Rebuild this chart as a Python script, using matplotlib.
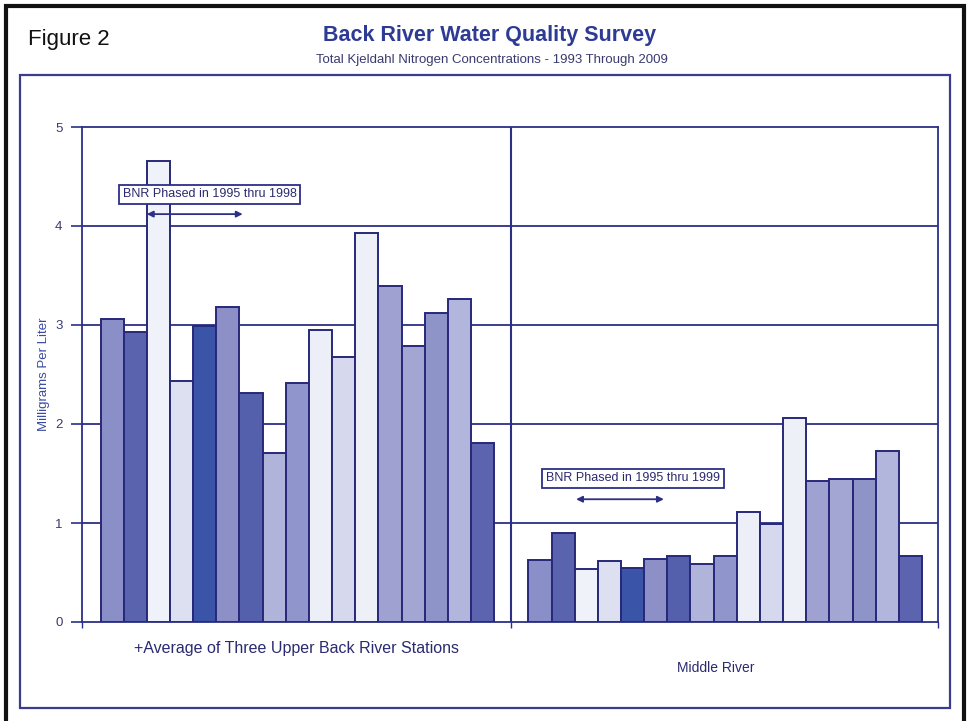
import matplotlib
matplotlib.use("Agg")
import matplotlib.pyplot as plt
from matplotlib.patches import Rectangle
import numpy as np

plt.rcParams['font.family'] = ['Liberation Sans', 'DejaVu Sans']

years = list(range(1993, 2010))
upper_back = [3.06, 2.93, 4.66, 2.43, 2.99, 3.18, 2.31, 1.71, 2.41, 2.95,
              2.68, 3.93, 3.39, 2.79, 3.12, 3.26, 1.81]
middle_river = [0.63, 0.90, 0.54, 0.62, 0.55, 0.64, 0.67, 0.59, 0.67, 1.11,
                0.99, 2.06, 1.42, 1.44, 1.44, 1.73, 0.67]
year_colors = ['#8a8fc8', '#5a63ae', '#f0f2fa', '#dde0f0', '#3a55a8', '#8d90c6',
               '#5560ac', '#b0b3da', '#9096cc', '#eceef8', '#d6d9ee', '#eef0f8',
               '#9fa2d0', '#a3a5d2', '#8f94c8', '#b2b5dc', '#5c64b0']
group_labels = ['+Average of Three Upper Back River Stations', 'Middle River']
bnr_notes = ['BNR Phased in 1995 thru 1998', 'BNR Phased in 1995 thru 1999']

navy = '#2c2f86'
edge = '#28287a'

fig = plt.figure(figsize=(9.69, 7.21), dpi=100)
W, H = 969, 721

def fx(px):
    return px / W

def fy(py):
    return 1 - py / H

# outer frame and inner panel
fig.patches.append(Rectangle((fx(6), fy(730)), fx(964) - fx(6), fy(6) - fy(730),
                             transform=fig.transFigure, fill=False,
                             edgecolor='#111111', linewidth=3))
fig.patches.append(Rectangle((fx(20), fy(708)), fx(950) - fx(20), fy(75) - fy(708),
                             transform=fig.transFigure, fill=False,
                             edgecolor='#3c3c8c', linewidth=1.6))

fig.text(fx(28), fy(39), 'Figure 2', fontsize=16, color='#111111', va='center', ha='left')
fig.text(fx(490), fy(36), 'Back River Water Quality Survey', fontsize=15.5,
         fontweight='bold', color='#2e3b94', ha='center', va='center')
fig.text(fx(492), fy(60), 'Total Kjeldahl Nitrogen Concentrations - 1993 Through 2009',
         fontsize=9.5, color='#3a3a70', ha='center', va='center')

ax = fig.add_axes([fx(82), fy(622), fx(938) - fx(82), fy(127) - fy(622)])

n = len(years)
x_up = np.arange(n)
x_mid = np.arange(n) + 18.48
divider = 17.73

ax.bar(x_up, upper_back, width=1.0, align='edge', color=year_colors,
       edgecolor=edge, linewidth=1.4, zorder=3)
ax.bar(x_mid, middle_river, width=1.0, align='edge', color=year_colors,
       edgecolor=edge, linewidth=1.4, zorder=3)

ax.set_xlim(-0.8, 36.17)
ax.set_ylim(0, 5)
ax.set_yticks([0, 1, 2, 3, 4, 5])
for yv in [1, 2, 3, 4]:
    ax.axhline(yv, color=navy, linewidth=1.3, zorder=1)
ax.axvline(divider, color=navy, linewidth=1.5, zorder=2)

for s in ax.spines.values():
    s.set_color(navy)
    s.set_linewidth(1.3)

ax.tick_params(axis='y', direction='out', length=8, width=1.2, color=navy,
               labelcolor='#3a3a70', labelsize=9.5, pad=6)
ax.set_xticks([-0.8, divider, 36.17])
ax.set_xticklabels([])
ax.tick_params(axis='x', direction='out', length=4, width=1.0, color=navy)

ax.set_ylabel('Milligrams Per Liter', fontsize=9.5, color='#3a4aa0', labelpad=4)

# BNR phase-in notes with double-headed arrows
notes = [(0.32, 9.11, 4.32, 2.0, 6.14, 4.12), (18.64, 27.35, 1.45, 20.54, 24.33, 1.24)]
for label, (x0, x1, ty, a0, a1, ay) in zip(bnr_notes, notes):
    ax.text((x0 + x1) / 2, ty, label, fontsize=9, color='#2a2a70',
            ha='center', va='center', zorder=5,
            bbox=dict(boxstyle='square,pad=0.3', facecolor='white',
                      edgecolor=navy, linewidth=1.3))
    ax.annotate('', xy=(a1, ay), xytext=(a0, ay), zorder=5,
                arrowprops=dict(arrowstyle='<|-|>', color=navy, lw=1.3,
                                mutation_scale=9, shrinkA=0, shrinkB=0))

fig.text(fx(296), fy(649), group_labels[0], fontsize=11.5, color='#2a2a70',
         ha='center', va='center')
fig.text(fx(716), fy(668), group_labels[1], fontsize=10, color='#2a2a70',
         ha='center', va='center')

fig.savefig('out.png', dpi=100)
